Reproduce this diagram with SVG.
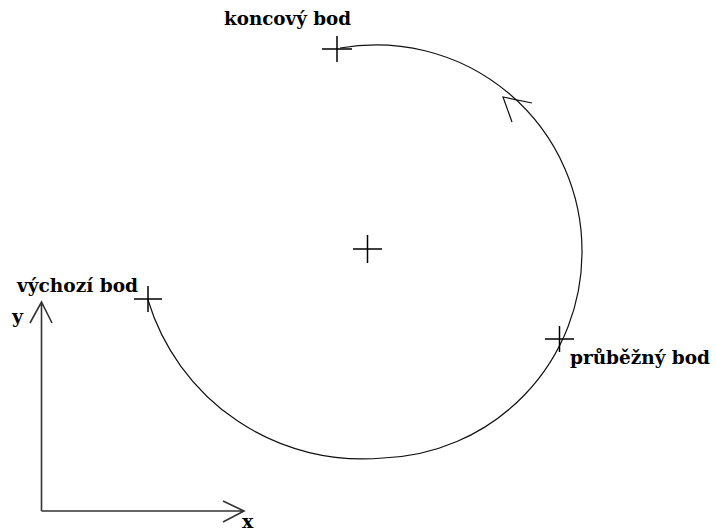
<svg xmlns="http://www.w3.org/2000/svg" width="716" height="532" viewBox="0 0 716 532">
  <style>
    .bg { fill: #ffffff; }
    .lbl { font-family: "DejaVu Serif", "Liberation Serif", serif; font-weight: bold; font-size: 19px; fill: #000000; }
    .cross { stroke: #000000; stroke-width: 1.5; fill: none; }
    .arc { stroke: #111111; stroke-width: 1.2; fill: none; }
    .axis { stroke: #333333; stroke-width: 1.6; fill: none; }
    .head { stroke: #111111; stroke-width: 1.2; fill: none; }
  </style>
  <rect class="bg" x="0" y="0" width="716" height="532"/>

  <g id="connectors">
    <path id="arc" class="arc" d="M148,300 A224,224 0 0 0 383,458 A206,206 0 0 0 582,252 A206,206 0 0 0 340,48"/>
    <polyline id="arc-arrow" class="head" points="532,103 503,97 512,122"/>
  </g>

  <g id="node-start">
    <path class="cross" d="M134,299 H162 M148,286 V312"/>
    <text class="lbl" x="17" y="292" textLength="121" lengthAdjust="spacingAndGlyphs">výchozí bod</text>
  </g>

  <g id="node-end">
    <path class="cross" d="M322,49 H352 M337,36 V62"/>
    <text class="lbl" x="224" y="24.5" textLength="127" lengthAdjust="spacingAndGlyphs">koncový bod</text>
  </g>

  <g id="node-mid">
    <path class="cross" d="M545,339 H574 M559.5,326 V352"/>
    <text class="lbl" x="570" y="364" textLength="140" lengthAdjust="spacingAndGlyphs">průběžný bod</text>
  </g>

  <g id="node-center">
    <path class="cross" d="M353,249 H382 M367.5,235 V263"/>
  </g>

  <g id="axes">
    <path class="axis" d="M41.5,511 V302 M30,323 L41.5,302 L52,323"/>
    <path class="axis" d="M41.5,511 H244 M223,501 L244,511 L223,522"/>
    <text class="lbl" x="12" y="323">y</text>
    <text class="lbl" x="242" y="528">x</text>
  </g>
</svg>
